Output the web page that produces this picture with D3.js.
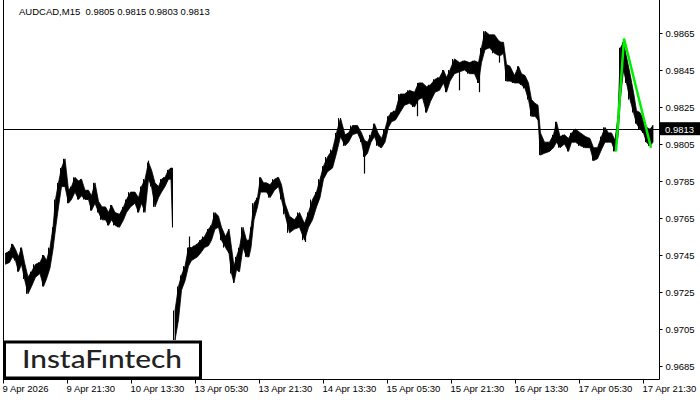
<!DOCTYPE html>
<html>
<head>
<meta charset="utf-8">
<script src="https://cdn.jsdelivr.net/npm/d3@7"></script>
<style>
    body { margin: 0; background: #fff; }
    svg text { font-family: Tahoma, "Liberation Sans", Arial, sans-serif; }
</style>
</head>
<body>
<div id="chart"></div>
<script>
// AUDCAD M15 - price band (bar index, high, low per stretch)
const title = "AUDCAD,M15  0.9805 0.9815 0.9803 0.9813"

const barIdx = [0,5,8,11,14,17,20,23,27,30,35,39,42,45,49,51,54,57,60,64,
    67,70,74,77,80,84,87,90,94,97,101,104,107,110,114,119,122,125,130,134,
    137,140,144,147,150,154,157,160,164,167,169,170,174,177,180,184,187,190,193,196,
    199,204,207,210,214,217,220,225,227,230,232,235,238,242,245,247,249,253,256,259,
    262,265,269,274,277,280,284,289,294,299,304,307,312,315,319,322,327,332,335,340,
    344,347,352,357,360,363,366,370,373,377,380,384,387,390,395,399,404,409,414,417,
    422,425,430,434,439,442,445,449,454,459,464,469,474,477,480,484,489,494,497,499,
    502,505,509,514,517,520,524,527,530,534,536,539,544,549,552,555,559,564,567,570,
    575,580,585,589,592,597,600,604,607,610,614,616,619,622,625,629,632,635,639,642,
    645,649]

const highs = [0.9746,0.9747,0.9751,0.9748,0.9744,0.9749,0.9741,0.9733,0.9736,0.9740,
    0.9741,0.9745,0.9742,0.9749,0.9760,0.9775,0.9784,0.9792,0.9797,0.9780,
    0.9782,0.9787,0.9785,0.9786,0.9780,0.9780,0.9777,0.9784,0.9774,0.9771,
    0.9771,0.9768,0.9772,0.9768,0.9767,0.9771,0.9775,0.9779,0.9779,0.9776,
    0.9782,0.9786,0.9795,0.9791,0.9784,0.9782,0.9786,0.9787,0.9791,0.9792,
    0.9792,0.9715,0.9728,0.9734,0.9739,0.9749,0.9749,0.9750,0.9751,0.9753,
    0.9755,0.9759,0.9761,0.9768,0.9766,0.9760,0.9755,0.9759,0.9749,0.9739,
    0.9744,0.9749,0.9760,0.9753,0.9753,0.9760,0.9773,0.9776,0.9787,0.9784,
    0.9784,0.9783,0.9786,0.9787,0.9783,0.9773,0.9766,0.9764,0.9768,0.9762,
    0.9768,0.9775,0.9779,0.9786,0.9793,0.9798,0.9802,0.9811,0.9819,0.9810,
    0.9811,0.9815,0.9815,0.9811,0.9807,0.9806,0.9810,0.9816,0.9811,0.9808,
    0.9813,0.9820,0.9822,0.9823,0.9832,0.9832,0.9834,0.9833,0.9838,0.9838,
    0.9836,0.9837,0.9840,0.9841,0.9845,0.9841,0.9845,0.9851,0.9849,0.9850,
    0.9849,0.9850,0.9849,0.9857,0.9866,0.9864,0.9864,0.9861,0.9860,0.9860,
    0.9848,0.9847,0.9842,0.9847,0.9843,0.9842,0.9838,0.9829,0.9827,0.9826,
    0.9811,0.9806,0.9806,0.9810,0.9817,0.9809,0.9810,0.9808,0.9811,0.9813,
    0.9811,0.9809,0.9808,0.9803,0.9803,0.9809,0.9814,0.9811,0.9811,0.9807,
    0.9820,0.9857,0.9860,0.9852,0.9843,0.9833,0.9823,0.9822,0.9818,0.9814,
    0.9813,0.9815]

const lows = [0.9740,0.9741,0.9744,0.9742,0.9736,0.9740,0.9732,0.9724,0.9728,0.9733,
    0.9735,0.9728,0.9732,0.9738,0.9748,0.9759,0.9771,0.9782,0.9782,0.9773,
    0.9775,0.9779,0.9775,0.9777,0.9775,0.9775,0.9769,0.9773,0.9768,0.9764,
    0.9764,0.9761,0.9764,0.9761,0.9760,0.9764,0.9768,0.9771,0.9773,0.9768,
    0.9773,0.9768,0.9786,0.9782,0.9771,0.9776,0.9779,0.9782,0.9786,0.9786,
    0.9760,0.9699,0.9710,0.9726,0.9731,0.9739,0.9742,0.9743,0.9744,0.9746,
    0.9749,0.9750,0.9753,0.9759,0.9760,0.9753,0.9749,0.9746,0.9735,0.9730,
    0.9737,0.9736,0.9749,0.9744,0.9744,0.9749,0.9764,0.9771,0.9779,0.9779,
    0.9779,0.9776,0.9780,0.9782,0.9775,0.9767,0.9757,0.9759,0.9760,0.9753,
    0.9760,0.9764,0.9771,0.9776,0.9786,0.9790,0.9792,0.9800,0.9809,0.9804,
    0.9806,0.9810,0.9811,0.9806,0.9798,0.9800,0.9806,0.9809,0.9804,0.9803,
    0.9806,0.9814,0.9817,0.9818,0.9822,0.9826,0.9827,0.9825,0.9829,0.9830,
    0.9822,0.9828,0.9833,0.9834,0.9838,0.9833,0.9839,0.9843,0.9844,0.9845,
    0.9843,0.9843,0.9838,0.9849,0.9856,0.9857,0.9854,0.9853,0.9853,0.9854,
    0.9839,0.9839,0.9838,0.9838,0.9837,0.9835,0.9829,0.9820,0.9820,0.9818,
    0.9799,0.9800,0.9801,0.9803,0.9806,0.9803,0.9805,0.9801,0.9806,0.9806,
    0.9804,0.9803,0.9803,0.9796,0.9797,0.9802,0.9806,0.9806,0.9806,0.9801,
    0.9809,0.9830,0.9845,0.9838,0.9829,0.9822,0.9816,0.9813,0.9811,0.9806,
    0.9804,0.9806]

// single long shadows sticking out of the band
const wickIdx = [145, 186, 302, 361, 414, 456, 476, 496]
const wickPrice = [0.9796, 0.9755, 0.9752, 0.9789, 0.9820, 0.9834, 0.9833, 0.9849]

// pattern drawn in green
const patternIdx = [613, 621, 648]
const patternPrice = [0.9801, 0.9862, 0.9803]

const lastPrice = 0.9813

const priceTicks = [0.9685, 0.9705, 0.9725, 0.9745, 0.9765, 0.9785, 0.9805, 0.9825, 0.9845, 0.9865]
const timeTickIdx = [0, 64, 128, 192, 256, 320, 384, 448, 512, 576, 640]
const timeLabels = ["9 Apr 2026", "9 Apr 21:30", "10 Apr 13:30", "13 Apr 05:30", "13 Apr 21:30",
    "14 Apr 13:30", "15 Apr 05:30", "15 Apr 21:30", "16 Apr 13:30", "17 Apr 05:30", "17 Apr 21:30"]


let width = 700
let height = 400
let plotRight = 659
let plotBottom = 379

let svg = d3.select("#chart")
    .append("svg")
    .attr("width", width)
    .attr("height", height)
    .style("background", "#fff")

let x = d3.scaleLinear()
    .domain([0, 656])
    .range([3, plotRight])

let y = d3.scaleLinear()
    .domain([0.9685, 0.9865])
    .range([366, 33])

// frame
svg.append("line")
    .attr("x1", 3.5).attr("x2", 3.5)
    .attr("y1", 0).attr("y2", plotBottom)
    .attr("stroke", "#000")
svg.append("line")
    .attr("x1", plotRight + 0.5).attr("x2", plotRight + 0.5)
    .attr("y1", 0).attr("y2", plotBottom + 0.5)
    .attr("stroke", "#000")
svg.append("line")
    .attr("x1", 3).attr("x2", plotRight + 0.5)
    .attr("y1", plotBottom + 0.5).attr("y2", plotBottom + 0.5)
    .attr("stroke", "#000")

// last price line
svg.append("line")
    .attr("x1", 3).attr("x2", plotRight)
    .attr("y1", Math.round(y(lastPrice)) + 0.5)
    .attr("y2", Math.round(y(lastPrice)) + 0.5)
    .attr("stroke", "#000")

// price band: high/low envelope of each stretch, plus a bar line at every stretch start
let bars = barIdx.map((d, i) => ({
    i: d,
    next: i < barIdx.length - 1 ? barIdx[i + 1] : d + 2,
    hi: highs[i],
    lo: lows[i]
}))

// the weekend gap sits between bar 169 and 170, the band is not joined there
let gapAt = 170
let before = bars.filter(d => d.i < gapAt)
let after = bars.filter(d => d.i >= gapAt)

let band = d3.area()
    .x(d => x((d.i + d.next) / 2))
    .y0(d => y(d.lo))
    .y1(d => y(d.hi))
    .curve(d3.curveLinear)

let bandG = svg.append("g")
;[before, after].forEach(part => {
    bandG.append("path")
        .datum(part)
        .attr("d", band)
        .attr("fill", "#000")
        .attr("stroke", "#000")
        .attr("stroke-width", 0.8)
})

// thin bar columns so the edge looks like bars, not a smooth band
bandG.selectAll("line.bar")
    .data(bars)
    .enter()
    .append("line")
    .attr("class", "bar")
    .attr("x1", d => x(d.i) + 0.5)
    .attr("x2", d => x(d.i) + 0.5)
    .attr("y1", d => y(d.hi))
    .attr("y2", d => y(d.lo))
    .attr("stroke", "#000")
    .attr("stroke-width", 1)

svg.append("g")
    .selectAll("line")
    .data(wickIdx)
    .enter()
    .append("line")
    .attr("x1", d => x(d) + 0.5)
    .attr("x2", d => x(d) + 0.5)
    .attr("y1", (d, k) => y(wickPrice[k]))
    .attr("y2", d => {
        let b = bars.filter(b => b.i <= d).pop()
        return y((b.hi + b.lo) / 2)
    })
    .attr("stroke", "#000")
    .attr("stroke-width", 1.2)

// green pattern
svg.append("path")
    .datum(patternIdx.map((d, k) => [d, patternPrice[k]]))
    .attr("d", d3.line().x(d => x(d[0])).y(d => y(d[1])))
    .attr("fill", "none")
    .attr("stroke", "#00ee00")
    .attr("stroke-width", 2.5)

// right axis
let yAxis = d3.axisRight(y)
    .tickValues(priceTicks)
    .tickFormat(d3.format(".4f"))
    .tickSize(3)
    .tickPadding(3)

let gy = svg.append("g")
    .attr("transform", "translate(" + (plotRight + 0.5) + ",0)")
    .call(yAxis)
gy.select(".domain").remove()
gy.selectAll("text")
    .attr("fill", "#000")
    .style("font-size", "9.5px")

// bottom axis
let xAxis = d3.axisBottom(x)
    .tickValues(timeTickIdx)
    .tickFormat((d, i) => timeLabels[i])
    .tickSize(4)
    .tickPadding(2)

let gx = svg.append("g")
    .attr("transform", "translate(0," + (plotBottom + 0.5) + ")")
    .call(xAxis)
gx.select(".domain").remove()
gx.selectAll("text")
    .attr("text-anchor", "start")
    .attr("x", -1)
    .attr("fill", "#000")
    .style("font-size", "9.5px")

// last price tag
svg.append("rect")
    .attr("x", plotRight + 1)
    .attr("y", y(lastPrice) - 7)
    .attr("width", width - plotRight - 1)
    .attr("height", 13)
    .attr("fill", "#000")
svg.append("text")
    .attr("x", plotRight + 6)
    .attr("y", y(lastPrice) + 3.5)
    .attr("fill", "#fff")
    .style("font-size", "9.5px")
    .text(d3.format(".4f")(lastPrice))

// title
svg.append("text")
    .attr("x", 19)
    .attr("y", 15)
    .attr("fill", "#000")
    .style("font-size", "9.5px")
    .style("white-space", "pre")
    .text(title)

// logo
svg.append("rect")
    .attr("x", 4.5)
    .attr("y", 342)
    .attr("width", 196)
    .attr("height", 36)
    .attr("fill", "#fff")
    .attr("stroke", "#000")
    .attr("stroke-width", 3)
svg.append("text")
    .attr("x", 22)
    .attr("y", 368)
    .attr("fill", "#222")
    .attr("textLength", 160)
    .attr("lengthAdjust", "spacingAndGlyphs")
    .style("font-family", "Lato, 'Open Sans', sans-serif")
    .style("font-size", "25px")
    .style("font-weight", 500)
    .text("InstaF\u0131ntech")
</script>
</body>
</html>
